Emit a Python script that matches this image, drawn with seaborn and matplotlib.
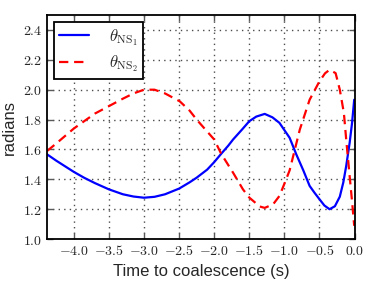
import matplotlib
matplotlib.use("Agg")
import matplotlib.pyplot as plt
import seaborn as sns
import pandas as pd
from matplotlib.ticker import FuncFormatter, MultipleLocator

t_ns1 = [-4.38, -4.25, -4.1, -4.0, -3.85, -3.7, -3.5, -3.3, -3.15, -3.0, -2.85,
         -2.7, -2.5, -2.35, -2.25, -2.1, -2.0, -1.9, -1.8, -1.73, -1.6, -1.5,
         -1.4, -1.28, -1.17, -1.07, -0.925, -0.83, -0.73, -0.64, -0.57, -0.5,
         -0.43, -0.356, -0.28, -0.21, -0.16, -0.119, -0.07, -0.035, -0.005]
theta_ns1 = [1.567, 1.525, 1.48, 1.45, 1.41, 1.375, 1.333, 1.30, 1.285, 1.277, 1.283,
             1.30, 1.338, 1.38, 1.411, 1.465, 1.515, 1.571, 1.625, 1.667, 1.735, 1.789,
             1.82, 1.838, 1.815, 1.778, 1.678, 1.567, 1.46, 1.356, 1.31, 1.267,
             1.225, 1.2, 1.22, 1.284, 1.38, 1.489, 1.644, 1.78, 1.933]

t_ns2 = [-4.38, -4.25, -4.1, -4.0, -3.85, -3.7, -3.5, -3.3, -3.15, -3.0, -2.85,
         -2.7, -2.49, -2.35, -2.25, -2.1, -2.0, -1.9, -1.73, -1.59, -1.5, -1.35,
         -1.28, -1.16, -1.07, -1.0, -0.925, -0.78, -0.64, -0.5, -0.42, -0.356,
         -0.27, -0.21, -0.152, -0.119, -0.07, -0.035, -0.005]
theta_ns2 = [1.59, 1.64, 1.70, 1.74, 1.79, 1.84, 1.89, 1.94, 1.975, 2.0, 2.0,
             1.975, 1.922, 1.86, 1.80, 1.72, 1.667, 1.571, 1.444, 1.333, 1.278, 1.218,
             1.209, 1.233, 1.289, 1.37, 1.46, 1.733, 1.933, 2.056, 2.11, 2.133,
             2.111, 2.0, 1.844, 1.667, 1.422, 1.25, 1.089]

sns.set_style("ticks")
plt.rcParams.update({
    "font.family": ["Liberation Sans", "DejaVu Sans"],
    "mathtext.fontset": "cm",
    "xtick.direction": "in",
    "ytick.direction": "in",
    "xtick.top": True,
    "ytick.right": True,
})

df1 = pd.DataFrame({"t": t_ns1, "theta": theta_ns1})
df2 = pd.DataFrame({"t": t_ns2, "theta": theta_ns2})

fig = plt.figure(figsize=(3.74, 3.0), dpi=100)
ax = fig.add_axes([0.126, 0.203, 0.822, 0.747])

sns.lineplot(data=df1, x="t", y="theta", ax=ax, color="blue", lw=1.6,
             label=r"$\theta_{\rm NS_1}$", sort=False)
sns.lineplot(data=df2, x="t", y="theta", ax=ax, color="red", lw=1.6,
             linestyle="--", label=r"$\theta_{\rm NS_2}$", sort=False)
# shorter dashes, like the original
ax.lines[-1].set_dashes((4.2, 2.6))

ax.set_xlim(-4.38, 0.0)
ax.set_ylim(1.0, 2.5)
ax.xaxis.set_major_locator(MultipleLocator(0.5))
ax.yaxis.set_major_locator(MultipleLocator(0.2))
fmt = FuncFormatter(lambda v, p: r"$%.1f$" % v)
ax.xaxis.set_major_formatter(fmt)
ax.yaxis.set_major_formatter(fmt)
ax.tick_params(labelsize=10, length=4, width=1, color="0.35")
ax.grid(True, color="0.3", linestyle=(0, (1, 3)), linewidth=1)
for s in ax.spines.values():
    s.set_linewidth(1.3)
    s.set_color("black")

ax.set_xlabel("Time to coalescence (s)", fontsize=12)
ax.set_ylabel("radians", fontsize=12)

leg = ax.legend(loc="upper left", fontsize=12, fancybox=False, framealpha=1,
                edgecolor="black", handlelength=1.8, borderpad=0.3,
                labelspacing=0.35, handletextpad=1.2, borderaxespad=0.4)
leg.get_frame().set_linewidth(1.3)
leg.get_lines()[-1].set_dashes((4.2, 2.6))

fig.savefig("out.png", dpi=100)
